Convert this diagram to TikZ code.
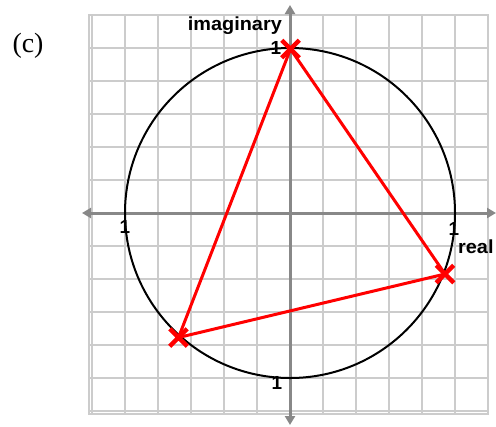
\documentclass[tikz,border=0pt]{standalone}
\usepackage{fontspec}
\usepackage{graphicx}
\setmainfont{Liberation Serif}
\newfontfamily\lblfont{Liberation Sans}
\usetikzlibrary{arrows.meta,shapes.misc}
\definecolor{gridgray}{HTML}{CCCCCC}
\definecolor{axisgray}{HTML}{888888}
\definecolor{pred}{HTML}{FF0000}
\tikzset{
  lbl/.style={inner sep=0pt, font=\lblfont\bfseries\fontsize{19}{22}\selectfont},
  axisline/.style={draw=axisgray, line width=3bp, -{Triangle[length=9bp,width=10bp]}},
  xmark/.style={cross out, draw=pred, line width=4.5bp, minimum size=13bp, inner sep=0pt},
  tri/.style={draw=pred, line width=3bp, line join=round},
}
\begin{document}
\begin{tikzpicture}[x=1bp,y=-1bp]
\useasboundingbox (0,0) rectangle (496,426);
% grid
\foreach \k in {-6,...,6} {
  \draw[gridgray, line width=1.5bp] ({290+33*\k},15) -- ({290+33*\k},414);
  \draw[gridgray, line width=1.5bp] (89,{213+33*\k}) -- (488,{213+33*\k});
}
\draw[gridgray, line width=1.5bp] (89,15) rectangle (488,414);
% axes
\coordinate (O) at (290,213);
\coordinate (xl) at (82,213);
\coordinate (xr) at (496,213);
\coordinate (yt) at (290,5);
\coordinate (yb) at (290,425);
\draw[axisline] (O) -- (xr);
\draw[axisline] (O) -- (xl);
\draw[axisline] (O) -- (yt);
\draw[axisline] (O) -- (yb);
% circle
\draw[black, line width=2bp] (O) circle[radius=165];
% labels
\node[lbl, anchor=base east] (im) at (282,30) {\scalebox{1.05}[1]{imaginary}};
\node[lbl, anchor=base west] (re) at (458,253) {\scalebox{1.05}[1]{real}};
\node[lbl] (one1) at (276,47.5) {1};
\node[lbl] (one2) at (125,227) {1};
\node[lbl] (one3) at (454,229) {1};
\node[lbl] (one4) at (277,383) {1};
\node[font=\fontsize{28}{32}\selectfont, inner sep=0pt] (c) at (28,46) {(c)};
% triangle
\coordinate (A) at (290.5,49);
\coordinate (B) at (445,274);
\coordinate (D) at (178.5,337.5);
\draw[tri] (A) -- (B) -- (D) -- cycle;
\node[xmark] (mA) at (A) {};
\node[xmark] (mB) at (B) {};
\node[xmark] (mD) at (D) {};
\end{tikzpicture}
\end{document}
